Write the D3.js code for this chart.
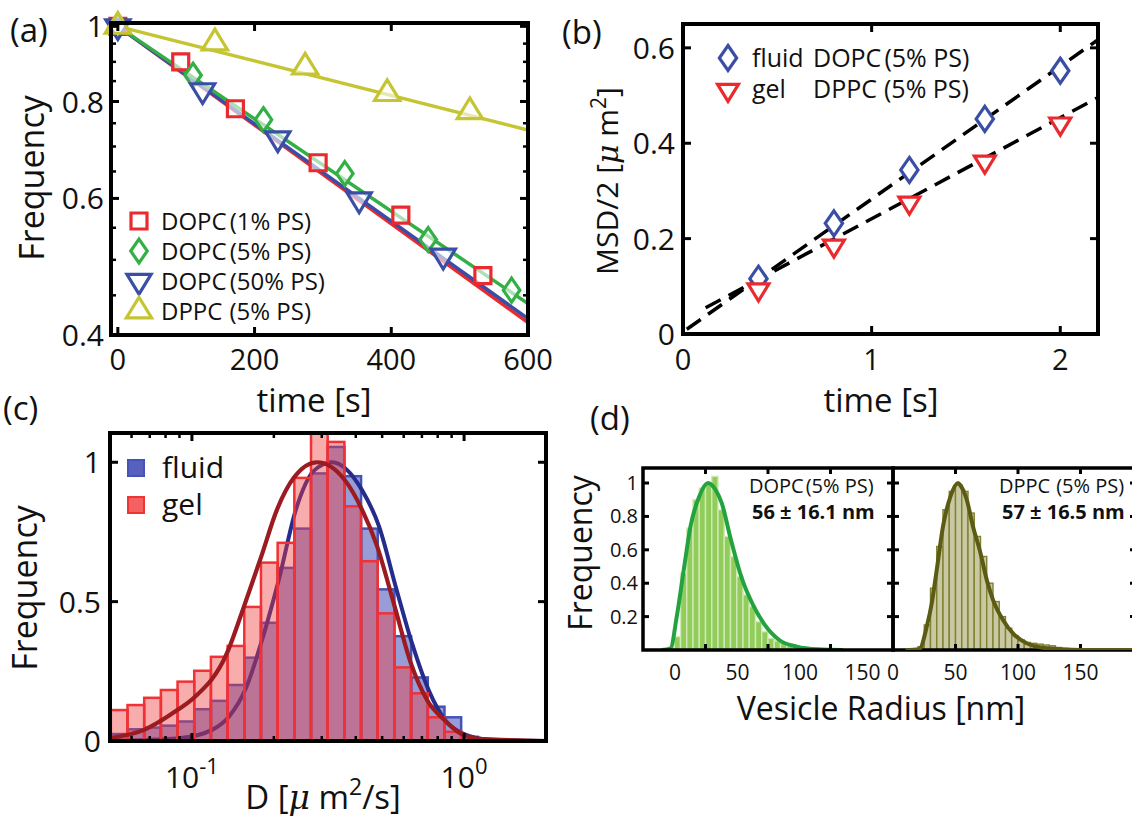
<!DOCTYPE html>
<html>
<head>
<meta charset="utf-8">
<script src="https://cdn.jsdelivr.net/npm/d3@7"></script>
<style>
  body { margin: 0; background: #fff; }
  text { font-family: "Open Sans", sans-serif; fill: #111; }
</style>
</head>
<body>
<svg id="fig" width="1132" height="818"></svg>
<script>
// ---------------- (a) frequency decay ----------------
const aTimeTicks = [0, 200, 400, 600];
const aFreqTicks = [0.4, 0.6, 0.8, 1];
const aFreqMinor = [0.45, 0.5, 0.55, 0.65, 0.7, 0.75, 0.85, 0.9, 0.95];
const aNames = ["DOPC", "DOPC", "DOPC", "DPPC"];
const aPS = ["(1% PS)", "(5% PS)", "(50% PS)", "(5% PS)"];
const aDopc1 = [[0, 1], [92, 0.90], [172, 0.783], [293, 0.667], [414, 0.571], [534, 0.477]];
const aDopc5 = [[0, 1], [110, 0.865], [213, 0.758], [332, 0.646], [454, 0.531], [576, 0.457]];
const aDopc50 = [[0, 1], [124, 0.827], [234, 0.717], [353, 0.598], [476, 0.506]];
const aDppc5 = [[0, 1], [142, 0.952], [274, 0.886], [394, 0.819], [515, 0.776]];
const aFitEnd = [0.415, 0.439, 0.42, 0.735];   // fitted value at t = 600 s

// ---------------- (b) MSD ----------------
const bTimeTicks = [0, 1, 2];
const bMsdTicks = [0, 0.2, 0.4, 0.6];
const bTime = [0.4, 0.8, 1.2, 1.6, 2.0];
const bFluid = [0.116, 0.232, 0.344, 0.451, 0.552];
const bGel = [0.093, 0.185, 0.275, 0.361, 0.441];
const bFluidFit = [[0.02, 0.01], [2.2, 0.617]];
const bGelFit = [[0.12, 0.055], [2.2, 0.496]];

// ---------------- (c) diffusion histogram ----------------
const cLogBinStart = -1.298;
const cLogBinWidth = 0.0613;
const cGel = [0.111, 0.129, 0.155, 0.183, 0.213, 0.252, 0.302, 0.341, 0.481, 0.640, 0.711,
              0.944, 1.13, 1.073, 0.842, 0.645, 0.458, 0.264, 0.171, 0.085, 0.033, 0];
const cFluid = [0.025, 0.042, 0.048, 0.055, 0.07, 0.114, 0.144, 0.201, 0.299, 0.424, 0.621,
                0.762, 0.96, 1.055, 0.950, 0.762, 0.544, 0.376, 0.228, 0.123, 0.085, 0.015];
const cGelFit = [[0.05, 0.01], [0.0667, 0.04], [0.0881, 0.11], [0.1017, 0.155], [0.1345, 0.315],
                 [0.155, 0.48], [0.1795, 0.66], [0.2054, 0.83], [0.237, 0.945], [0.2884, 1.0],
                 [0.362, 0.94], [0.4217, 0.83], [0.4786, 0.70], [0.553, 0.49], [0.6385, 0.277],
                 [0.731, 0.147], [0.859, 0.07], [0.959, 0.03], [1.135, 0.008], [2.0, 0]];
const cFluidFit = [[0.05, 0], [0.0896, 0.01], [0.1185, 0.04], [0.1367, 0.087], [0.158, 0.19],
                   [0.1807, 0.36], [0.2088, 0.58], [0.241, 0.83], [0.281, 0.97], [0.3273, 1.0],
                   [0.4217, 0.90], [0.487, 0.77], [0.5623, 0.55], [0.644, 0.35], [0.743, 0.18],
                   [0.859, 0.07], [1.0, 0.025], [1.236, 0.005], [2.0, 0]];
const cYTicks = [0, 0.5, 1];
const cMajor = [0.1, 1];
const cMinor = [0.06, 0.07, 0.08, 0.09, 0.2, 0.3, 0.4, 0.5, 0.6, 0.7, 0.8, 0.9];

// ---------------- (d) vesicle radius ----------------
const dBinStart = 15;
const dBinWidth = 5;
const dDopc = [0, 0.01, 0.08, 0.46, 0.73, 0.90, 0.97, 1.0, 1.04, 0.84, 0.68, 0.56, 0.44, 0.33,
               0.26, 0.17, 0.11, 0.07, 0.055, 0.045, 0.035, 0.025, 0.015, 0.01];
const dDppc = [0.005, 0.02, 0.15, 0.37, 0.62, 0.84, 0.95, 0.99, 0.95, 0.82, 0.68, 0.56, 0.40,
               0.29, 0.20, 0.13, 0.085, 0.06, 0.045, 0.04, 0.035, 0.03, 0.025, 0.015, 0.01, 0.005];
const dDopcFit = [[15, 0], [22, 0.01], [27, 0.2], [33, 0.5], [38, 0.74], [45, 0.92], [52, 1.0],
                  [58, 0.96], [63, 0.88], [70, 0.67], [79, 0.43], [88, 0.27], [97, 0.155],
                  [109, 0.06], [123, 0.02], [140, 0.004], [160, 0]];
const dDppcFit = [[10, 0], [21, 0.005], [27, 0.14], [31, 0.28], [35, 0.48], [40, 0.74], [46, 0.92],
                  [52, 1.0], [54, 0.985], [59, 0.9], [64, 0.74], [70, 0.58], [75, 0.42], [80, 0.3],
                  [88, 0.18], [96, 0.1], [107, 0.04], [123, 0.01], [150, 0], [200, 0]];
const dYTicks = [0.2, 0.4, 0.6, 0.8, 1];
const dXTicks = [50, 100, 150];
const dXLabels = [0, 50, 100, 150];
const dNames = ["DOPC", "DPPC"];
const dSizes = ["56 ± 16.1 nm", "57 ± 16.5 nm"];

// ======================================================
const svg = d3.select("#fig");
svg.append("rect").attr("width", 1132).attr("height", 818).attr("fill", "#fff");

const RED = "#ea2a2e", GREEN = "#33b045", BLUE = "#3a4ea6", YEL = "#c5c533";

function clip(id, b) {
  svg.append("clipPath").attr("id", id).append("rect")
    .attr("x", b.x0).attr("y", b.y0).attr("width", b.x1 - b.x0).attr("height", b.y1 - b.y0);
}
function frame(g, b, w) {
  g.append("rect").attr("x", b.x0).attr("y", b.y0)
    .attr("width", b.x1 - b.x0).attr("height", b.y1 - b.y0)
    .attr("fill", "none").attr("stroke", "#000").attr("stroke-width", w);
}
function ticksX(g, b, sc, vals, len, w) {
  vals.forEach(v => {
    const x = sc(v);
    g.append("line").attr("x1", x).attr("x2", x).attr("y1", b.y1).attr("y2", b.y1 - len)
      .attr("stroke", "#000").attr("stroke-width", w);
    g.append("line").attr("x1", x).attr("x2", x).attr("y1", b.y0).attr("y2", b.y0 + len)
      .attr("stroke", "#000").attr("stroke-width", w);
  });
}
function ticksY(g, b, sc, vals, len, w) {
  vals.forEach(v => {
    const y = sc(v);
    g.append("line").attr("x1", b.x0).attr("x2", b.x0 + len).attr("y1", y).attr("y2", y)
      .attr("stroke", "#000").attr("stroke-width", w);
    g.append("line").attr("x1", b.x1).attr("x2", b.x1 - len).attr("y1", y).attr("y2", y)
      .attr("stroke", "#000").attr("stroke-width", w);
  });
}
function label(g, x, y, str, size, anchor) {
  return g.append("text").attr("x", x).attr("y", y).attr("font-size", size)
    .attr("text-anchor", anchor || "start").text(str);
}
function marker(kind, s) {
  const p = d3.path();
  if (kind === "square") {
    p.rect(-s / 2, -s / 2, s, s);
  } else if (kind === "diamond") {
    const w = s * 0.36, h = s * 0.52;
    p.moveTo(0, -h); p.lineTo(w, 0); p.lineTo(0, h); p.lineTo(-w, 0); p.closePath();
  } else if (kind === "down") {
    const w = s * 0.55, h = s * 0.9;
    p.moveTo(-w, -h / 3); p.lineTo(w, -h / 3); p.lineTo(0, 2 * h / 3); p.closePath();
  } else {
    const w = s * 0.55, h = s * 0.9;
    p.moveTo(-w, h / 3); p.lineTo(w, h / 3); p.lineTo(0, -2 * h / 3); p.closePath();
  }
  return p.toString();
}

// ---------------- panel (a) ----------------
{
  const b = { x0: 111, x1: 528, y0: 23, y1: 335 };
  const g = svg.append("g");
  const x = d3.scaleLinear().domain([-10, 600]).range([b.x0, b.x1]);
  const y = d3.scaleLog().domain([0.4, 1.01]).range([b.y1, b.y0]);
  clip("clipA", b);

  const series = [
    { pts: aDopc1, color: RED, shape: "square", size: 16 },
    { pts: aDopc5, color: GREEN, shape: "diamond", size: 23 },
    { pts: aDopc50, color: BLUE, shape: "down", size: 22 },
    { pts: aDppc5, color: YEL, shape: "up", size: 23 }
  ];
  const lineOrder = [0, 2, 1, 3];
  const pl = g.append("g").attr("clip-path", "url(#clipA)");
  lineOrder.forEach(i => {
    pl.append("line").attr("x1", x(0)).attr("y1", y(1)).attr("x2", x(600)).attr("y2", y(aFitEnd[i]))
      .attr("stroke", series[i].color).attr("stroke-width", 3.5);
  });
  series.forEach(s => {
    g.append("g").selectAll("path").data(s.pts).join("path")
      .attr("d", marker(s.shape, s.size))
      .attr("transform", d => `translate(${x(d[0])},${y(d[1])})`)
      .attr("fill", "#fff").attr("fill-opacity", 0.6)
      .attr("stroke", s.color).attr("stroke-width", 3.2);
  });

  ticksX(g, b, x, aTimeTicks, 8, 3);
  ticksY(g, b, y, aFreqTicks, 8, 3);
  ticksY(g, b, y, aFreqMinor, 5, 2.5);
  frame(g, b, 4);

  aFreqTicks.forEach(v => label(g, 104, y(v) + 11, v === 1 ? "1" : d3.format(".1f")(v), 30, "end"));
  aTimeTicks.forEach(v => label(g, x(v), 370, String(v), 29, "middle"));
  label(g, 314, 412, "time [s]", 33, "middle");
  g.append("text").attr("transform", "translate(44,178) rotate(-90)").attr("text-anchor", "middle")
    .attr("font-size", 34).text("Frequency");
  label(g, 10, 42, "(a)", 33);

  // legend
  series.forEach((s, i) => {
    const cy = 221 + i * 30;
    g.append("path").attr("d", marker(s.shape, s.size)).attr("transform", `translate(139,${cy})`)
      .attr("fill", "#fff").attr("stroke", s.color).attr("stroke-width", 3.2);
    const t = label(g, 161, cy + 9, aNames[i], 24);
    t.append("tspan").attr("dx", i === 3 ? 7 : 3).text(aPS[i]);
  });
}

// ---------------- panel (b) ----------------
{
  const b = { x0: 683, x1: 1098, y0: 24, y1: 334 };
  const g = svg.append("g");
  const x = d3.scaleLinear().domain([0, 2.2]).range([b.x0, b.x1]);
  const y = d3.scaleLinear().domain([0, 0.65]).range([b.y1, b.y0]);
  clip("clipB", b);
  const line = d3.line().x(d => x(d[0])).y(d => y(d[1]));
  const pl = g.append("g").attr("clip-path", "url(#clipB)");
  [bFluidFit, bGelFit].forEach(f => {
    pl.append("path").attr("d", line(f)).attr("fill", "none").attr("stroke", "#000")
      .attr("stroke-width", 3.5).attr("stroke-dasharray", "17,9");
  });
  g.append("g").selectAll("path").data(bTime).join("path")
    .attr("d", marker("diamond", 24))
    .attr("transform", (d, i) => `translate(${x(d)},${y(bFluid[i])})`)
    .attr("fill", "#fff").attr("stroke", BLUE).attr("stroke-width", 3.2);
  g.append("g").selectAll("path").data(bTime).join("path")
    .attr("d", marker("down", 19))
    .attr("transform", (d, i) => `translate(${x(d)},${y(bGel[i])})`)
    .attr("fill", "#fff").attr("stroke", RED).attr("stroke-width", 3.2);

  ticksX(g, b, x, bTimeTicks, 8, 3);
  ticksY(g, b, y, bMsdTicks, 8, 3);
  frame(g, b, 4);

  bMsdTicks.forEach(v => label(g, 675, y(v) + 11, v === 0 ? "0" : d3.format(".1f")(v), 30, "end"));
  bTimeTicks.forEach(v => label(g, x(v), 370, String(v), 29, "middle"));
  label(g, 881, 412, "time [s]", 33, "middle");
  const yl = g.append("text").attr("transform", "translate(618,181) rotate(-90)")
    .attr("text-anchor", "middle").attr("font-size", 30);
  yl.append("tspan").text("MSD/2 [");
  yl.append("tspan").attr("font-family", "DejaVu Serif").attr("font-style", "italic").text("μ");
  yl.append("tspan").text(" m");
  yl.append("tspan").attr("font-size", 21).attr("dy", -12).text("2");
  yl.append("tspan").attr("dy", 12).text("]");
  label(g, 562, 44, "(b)", 33);

  g.append("path").attr("d", marker("diamond", 24)).attr("transform", "translate(728,58)")
    .attr("fill", "#fff").attr("stroke", BLUE).attr("stroke-width", 3.2);
  g.append("path").attr("d", marker("down", 19)).attr("transform", "translate(728,90)")
    .attr("fill", "#fff").attr("stroke", RED).attr("stroke-width", 3.2);
  label(g, 752, 67, "fluid", 25);
  label(g, 752, 98, "gel", 25);
  label(g, 813, 67, "DOPC", 25).append("tspan").attr("dx", 3).text("(5% PS)");
  label(g, 813, 98, "DPPC", 25).append("tspan").attr("dx", 7).text("(5% PS)");
}

// ---------------- panel (c) ----------------
{
  const b = { x0: 110, x1: 546, y0: 433, y1: 741 };
  const g = svg.append("g");
  const x = d3.scaleLog().domain([0.05, 2]).range([b.x0, b.x1]);
  const y = d3.scaleLinear().domain([0, 1.105]).range([b.y1, b.y0]);
  clip("clipC", b);
  const edge = k => Math.pow(10, cLogBinStart + k * cLogBinWidth);
  const pl = g.append("g").attr("clip-path", "url(#clipC)");
  const line = d3.line().x(d => x(d[0])).y(d => y(d[1])).curve(d3.curveMonotoneX);

  pl.append("g").selectAll("rect").data(cFluid.map((v, k) => [k, v]).filter(d => d[1] > 0)).join("rect")
    .attr("x", d => x(edge(d[0]))).attr("width", d => x(edge(d[0] + 1)) - x(edge(d[0])))
    .attr("y", d => y(d[1])).attr("height", d => y(0) - y(d[1]))
    .attr("fill", "#3a44b2").attr("fill-opacity", 0.52)
    .attr("stroke", "#4453b8").attr("stroke-width", 2.5);
  pl.append("path").attr("d", line(cFluidFit)).attr("fill", "none")
    .attr("stroke", "#262c8c").attr("stroke-width", 4);
  pl.append("g").selectAll("rect").data(cGel.map((v, k) => [k, v]).filter(d => d[1] > 0)).join("rect")
    .attr("x", d => x(edge(d[0]))).attr("width", d => x(edge(d[0] + 1)) - x(edge(d[0])))
    .attr("y", d => y(d[1])).attr("height", d => y(0) - y(d[1]))
    .attr("fill", "#f03a3a").attr("fill-opacity", 0.42)
    .attr("stroke", "#f03236").attr("stroke-width", 2.5);
  pl.append("path").attr("d", line(cGelFit)).attr("fill", "none")
    .attr("stroke", "#9b1b20").attr("stroke-width", 4.2);

  ticksX(g, b, x, cMajor, 8, 3);
  ticksX(g, b, x, cMinor, 5, 2.5);
  ticksY(g, b, y, cYTicks, 8, 3);
  frame(g, b, 4);

  cYTicks.forEach(v => label(g, 101, y(v) + 11, String(v), 30, "end"));
  cMajor.forEach(v => {
    const t = label(g, x(v), 788, "10", 30, "middle");
    t.append("tspan").attr("font-size", 22).attr("dy", -14).text(v < 1 ? "-1" : "0");
  });
  const xl = label(g, 323, 809, "D [", 33, "middle");
  xl.append("tspan").attr("font-family", "DejaVu Serif").attr("font-style", "italic").text("μ");
  xl.append("tspan").text(" m");
  xl.append("tspan").attr("font-size", 23).attr("dy", -14).text("2");
  xl.append("tspan").attr("dy", 14).text("/s]");
  g.append("text").attr("transform", "translate(37,588) rotate(-90)").attr("text-anchor", "middle")
    .attr("font-size", 34).text("Frequency");
  label(g, 3, 420, "(c)", 33);

  g.append("rect").attr("x", 128).attr("y", 460).attr("width", 16).attr("height", 16)
    .attr("fill", "#3a44b2").attr("fill-opacity", 0.85).attr("stroke", "#4453b8").attr("stroke-width", 2);
  g.append("rect").attr("x", 128).attr("y", 497).attr("width", 16).attr("height", 16)
    .attr("fill", "#f03a3a").attr("fill-opacity", 0.8).attr("stroke", "#f03236").attr("stroke-width", 2);
  label(g, 162, 478, "fluid", 30);
  label(g, 162, 515, "gel", 30);
}

// ---------------- panel (d) ----------------
{
  const y = d3.scaleLinear().domain([0, 1.09]).range([650, 468]);
  const subs = [
    { b: { x0: 643, x1: 893, y0: 468, y1: 650 }, vals: dDopc, fit: dDopcFit,
      fill: "#92cd5c", stroke: "#cfeab6", curve: "#22a33f", shift: 32 },
    { b: { x0: 893, x1: 1136, y0: 468, y1: 650 }, vals: dDppc, fit: dDppcFit,
      fill: "#c8c8a2", stroke: "#818132", curve: "#5b5b14", shift: 0 }
  ];
  const g = svg.append("g");
  subs.forEach((s, i) => {
    const b = s.b;
    const x = d3.scaleLinear().domain([0, 200]).range([b.x0, b.x0 + 250]);
    clip("clipD" + i, b);
    const pl = g.append("g").attr("clip-path", `url(#clipD${i})`);
    pl.append("g").selectAll("rect").data(s.vals.map((v, k) => [dBinStart + k * dBinWidth, v]).filter(d => d[1] > 0))
      .join("rect")
      .attr("x", d => x(d[0])).attr("width", x(dBinWidth) - x(0))
      .attr("y", d => y(d[1])).attr("height", d => y(0) - y(d[1]))
      .attr("fill", s.fill).attr("stroke", s.stroke).attr("stroke-width", 1.4);
    const line = d3.line().x(d => x(d[0])).y(d => y(d[1])).curve(d3.curveMonotoneX);
    const drawFit = () => g.append("path").attr("d", line(s.fit)).attr("fill", "none")
      .attr("stroke", s.curve).attr("stroke-width", 4).attr("clip-path", `url(#clipD${i})`);
    if (i === 0) drawFit();
    ticksX(g, b, x, dXTicks, 6, 3);
    ticksY(g, b, y, dYTicks, 6, 3);
    frame(g, b, 3.5);
    if (i === 1) drawFit();
    dXLabels.forEach(v => label(g, x(v) + s.shift, 680, String(v), 21, "middle")
      .attr("font-family", "Liberation Sans"));
    label(g, b.x0 + 106, 493, dNames[i], 20).append("tspan").attr("dx", i === 0 ? 2 : 6).text("(5% PS)");
    label(g, b.x0 + 109, 519, dSizes[i], 20).attr("font-family", "Liberation Sans").attr("font-weight", "bold");
  });
  dYTicks.forEach(v => label(g, 638, y(v) + 7, v === 1 ? "1" : d3.format(".1f")(v), 20, "end")
    .attr("font-family", "Liberation Sans"));
  g.append("text").attr("transform", "translate(592,553) rotate(-90)").attr("text-anchor", "middle")
    .attr("font-size", 32).text("Frequency");
  label(g, 881, 720, "Vesicle Radius [nm]", 32, "middle");
  label(g, 590, 430, "(d)", 33);
}
</script>
</body>
</html>
